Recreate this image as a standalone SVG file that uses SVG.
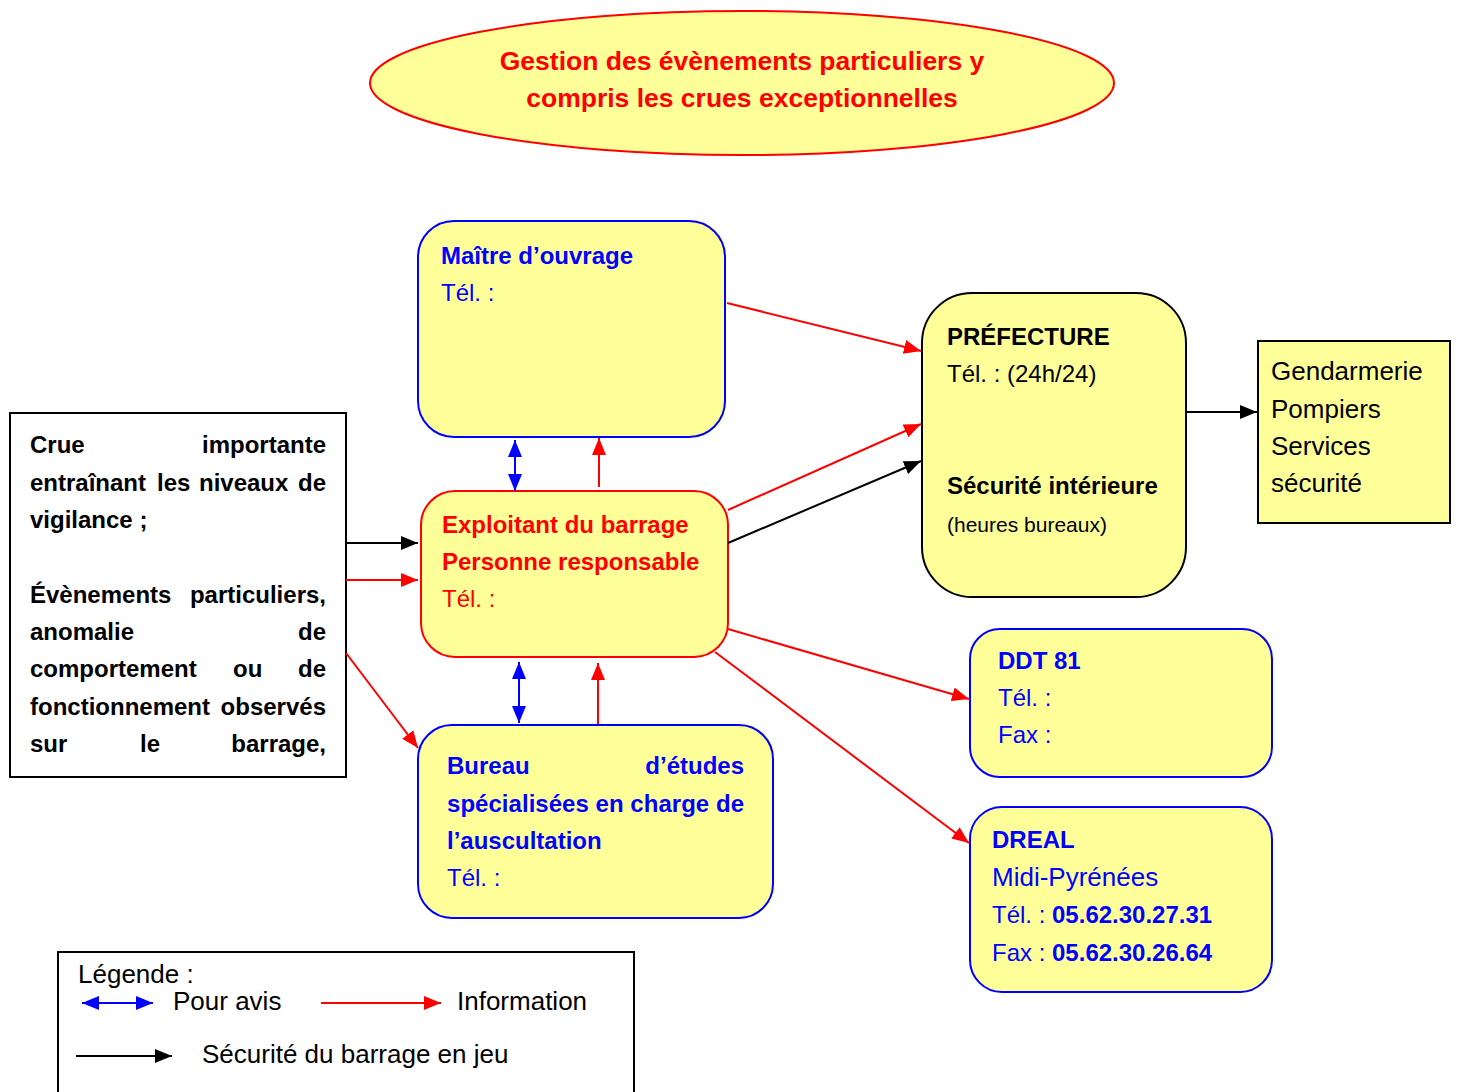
<svg xmlns="http://www.w3.org/2000/svg" width="1458" height="1092" viewBox="0 0 1458 1092">
<style>
text{font-family:"Liberation Sans",Arial,sans-serif;font-size:24px}
.b{font-weight:bold}
.red{fill:#ff0000}
.blue{fill:#0000ff}
.blk{fill:#000}
.node{fill:#ffff99;stroke-width:2}
.ln{fill:none;stroke-width:2}
</style>
<defs>
<marker id="ar" markerUnits="userSpaceOnUse" markerWidth="18" markerHeight="14" refX="17" refY="7" orient="auto"><path d="M0,0 L17,7 L0,14 z" fill="#ff0000"/></marker>
<marker id="ak" markerUnits="userSpaceOnUse" markerWidth="18" markerHeight="14" refX="17" refY="7" orient="auto"><path d="M0,0 L17,7 L0,14 z" fill="#000"/></marker>
<marker id="ab" markerUnits="userSpaceOnUse" markerWidth="18" markerHeight="14" refX="17" refY="7" orient="auto-start-reverse"><path d="M0,0 L17,7 L0,14 z" fill="#0000ff"/></marker>
</defs>
<rect width="1458" height="1092" fill="#fff"/>

<g id="title">
<ellipse cx="742" cy="83" rx="372" ry="72" fill="#ffff99" stroke="#ff0000" stroke-width="2"/>
<text x="742" y="70" text-anchor="middle" class="b red" style="font-size:26.5px">Gestion des évènements particuliers y</text>
<text x="742" y="107" text-anchor="middle" class="b red" style="font-size:26.5px">compris les crues exceptionnelles</text>
</g>

<g id="evenements">
<rect x="10" y="413" width="336" height="364" fill="#fff" stroke="#000" stroke-width="2"/>
<g class="b">
<text x="30" y="453">Crue</text><text x="326" y="453" text-anchor="end">importante</text>
<text x="30" y="491">entraînant</text><text x="157" y="491">les</text><text x="199" y="491">niveaux</text><text x="326" y="491" text-anchor="end">de</text>
<text x="30" y="528">vigilance ;</text>
<text x="30" y="603">Évènements</text><text x="326" y="603" text-anchor="end">particuliers,</text>
<text x="30" y="640">anomalie</text><text x="326" y="640" text-anchor="end">de</text>
<text x="30" y="677">comportement</text><text x="233" y="677">ou</text><text x="326" y="677" text-anchor="end">de</text>
<text x="30" y="715">fonctionnement</text><text x="326" y="715" text-anchor="end">observés</text>
<text x="30" y="752">sur</text><text x="140" y="752">le</text><text x="326" y="752" text-anchor="end">barrage,</text>
</g>
</g>

<g id="maitre">
<rect x="418" y="221" width="307" height="216" rx="36" class="node" stroke="#0000ff"/>
<text x="441" y="264" class="b blue">Maître d’ouvrage</text>
<text x="441" y="301" class="blue">Tél. :</text>
</g>

<g id="exploitant">
<rect x="421" y="491" width="307" height="166" rx="34" class="node" stroke="#ff0000"/>
<text x="442" y="533" class="b red">Exploitant du barrage</text>
<text x="442" y="570" class="b red">Personne responsable</text>
<text x="442" y="607" class="red">Tél. :</text>
</g>

<g id="bureau">
<rect x="418" y="725" width="355" height="193" rx="34" class="node" stroke="#0000ff"/>
<text x="447" y="774" class="b blue">Bureau</text><text x="744" y="774" text-anchor="end" class="b blue">d’études</text>
<text x="447" y="812" class="b blue" textLength="297" lengthAdjust="spacing">spécialisées en charge de</text>
<text x="447" y="849" class="b blue">l’auscultation</text>
<text x="447" y="886" class="blue">Tél. :</text>
</g>

<g id="prefecture">
<rect x="922" y="293" width="264" height="304" rx="50" class="node" stroke="#000"/>
<text x="947" y="345" class="b blk">PRÉFECTURE</text>
<text x="947" y="382" class="blk">Tél. : (24h/24)</text>
<text x="947" y="494" class="b blk">Sécurité intérieure</text>
<text x="947" y="532" class="blk" style="font-size:21px">(heures bureaux)</text>
</g>

<g id="secours">
<rect x="1258" y="341" width="192" height="182" fill="#ffff99" stroke="#000" stroke-width="2"/>
<text x="1271" y="380" class="blk" style="font-size:26px">Gendarmerie</text>
<text x="1271" y="418" class="blk" style="font-size:26px">Pompiers</text>
<text x="1271" y="455" class="blk" style="font-size:26px">Services</text>
<text x="1271" y="492" class="blk" style="font-size:26px">sécurité</text>
</g>

<g id="ddt">
<rect x="970" y="629" width="302" height="148" rx="30" class="node" stroke="#0000ff"/>
<text x="998" y="669" class="b blue">DDT 81</text>
<text x="998" y="706" class="blue">Tél. :</text>
<text x="998" y="743" class="blue">Fax :</text>
</g>

<g id="dreal">
<rect x="970" y="807" width="302" height="185" rx="32" class="node" stroke="#0000ff"/>
<text x="992" y="848" class="b blue">DREAL</text>
<text x="992" y="886" class="blue" style="font-size:26px">Midi-Pyrénées</text>
<text x="992" y="923" class="blue">Tél. : <tspan class="b">05.62.30.27.31</tspan></text>
<text x="992" y="961" class="blue">Fax : <tspan class="b">05.62.30.26.64</tspan></text>
</g>

<g id="connectors">
<line x1="346" y1="543" x2="418" y2="543" class="ln" stroke="#000" marker-end="url(#ak)"/>
<line x1="346" y1="580" x2="418" y2="580" class="ln" stroke="#ff0000" marker-end="url(#ar)"/>
<line x1="346" y1="653" x2="418" y2="748" class="ln" stroke="#ff0000" marker-end="url(#ar)"/>
<line x1="515" y1="440" x2="515" y2="491" class="ln" stroke="#0000ff" marker-start="url(#ab)" marker-end="url(#ab)"/>
<line x1="599" y1="487" x2="599" y2="438" class="ln" stroke="#ff0000" marker-end="url(#ar)"/>
<line x1="519" y1="662" x2="519" y2="723" class="ln" stroke="#0000ff" marker-start="url(#ab)" marker-end="url(#ab)"/>
<line x1="598" y1="724" x2="598" y2="663" class="ln" stroke="#ff0000" marker-end="url(#ar)"/>
<line x1="727" y1="303" x2="921" y2="351" class="ln" stroke="#ff0000" marker-end="url(#ar)"/>
<line x1="728" y1="510" x2="921" y2="424" class="ln" stroke="#ff0000" marker-end="url(#ar)"/>
<line x1="728" y1="543" x2="921" y2="461" class="ln" stroke="#000" marker-end="url(#ak)"/>
<line x1="1186" y1="412" x2="1257" y2="412" class="ln" stroke="#000" marker-end="url(#ak)"/>
<line x1="728" y1="629" x2="969" y2="699" class="ln" stroke="#ff0000" marker-end="url(#ar)"/>
<line x1="715" y1="652" x2="969" y2="843" class="ln" stroke="#ff0000" marker-end="url(#ar)"/>
</g>

<g id="legende">
<rect x="58" y="952" width="576" height="150" fill="#fff" stroke="#000" stroke-width="2"/>
<text x="78" y="983" class="blk" style="font-size:26px">Légende :</text>
<line x1="82" y1="1003" x2="153" y2="1003" class="ln" stroke="#0000ff" marker-start="url(#ab)" marker-end="url(#ab)"/>
<text x="173" y="1010" class="blk" style="font-size:26px">Pour avis</text>
<line x1="321" y1="1003" x2="441" y2="1003" class="ln" stroke="#ff0000" marker-end="url(#ar)"/>
<text x="457" y="1010" class="blk" style="font-size:26px">Information</text>
<line x1="76" y1="1056" x2="172" y2="1056" class="ln" stroke="#000" marker-end="url(#ak)"/>
<text x="202" y="1063" class="blk" style="font-size:26px">Sécurité du barrage en jeu</text>
</g>
</svg>
